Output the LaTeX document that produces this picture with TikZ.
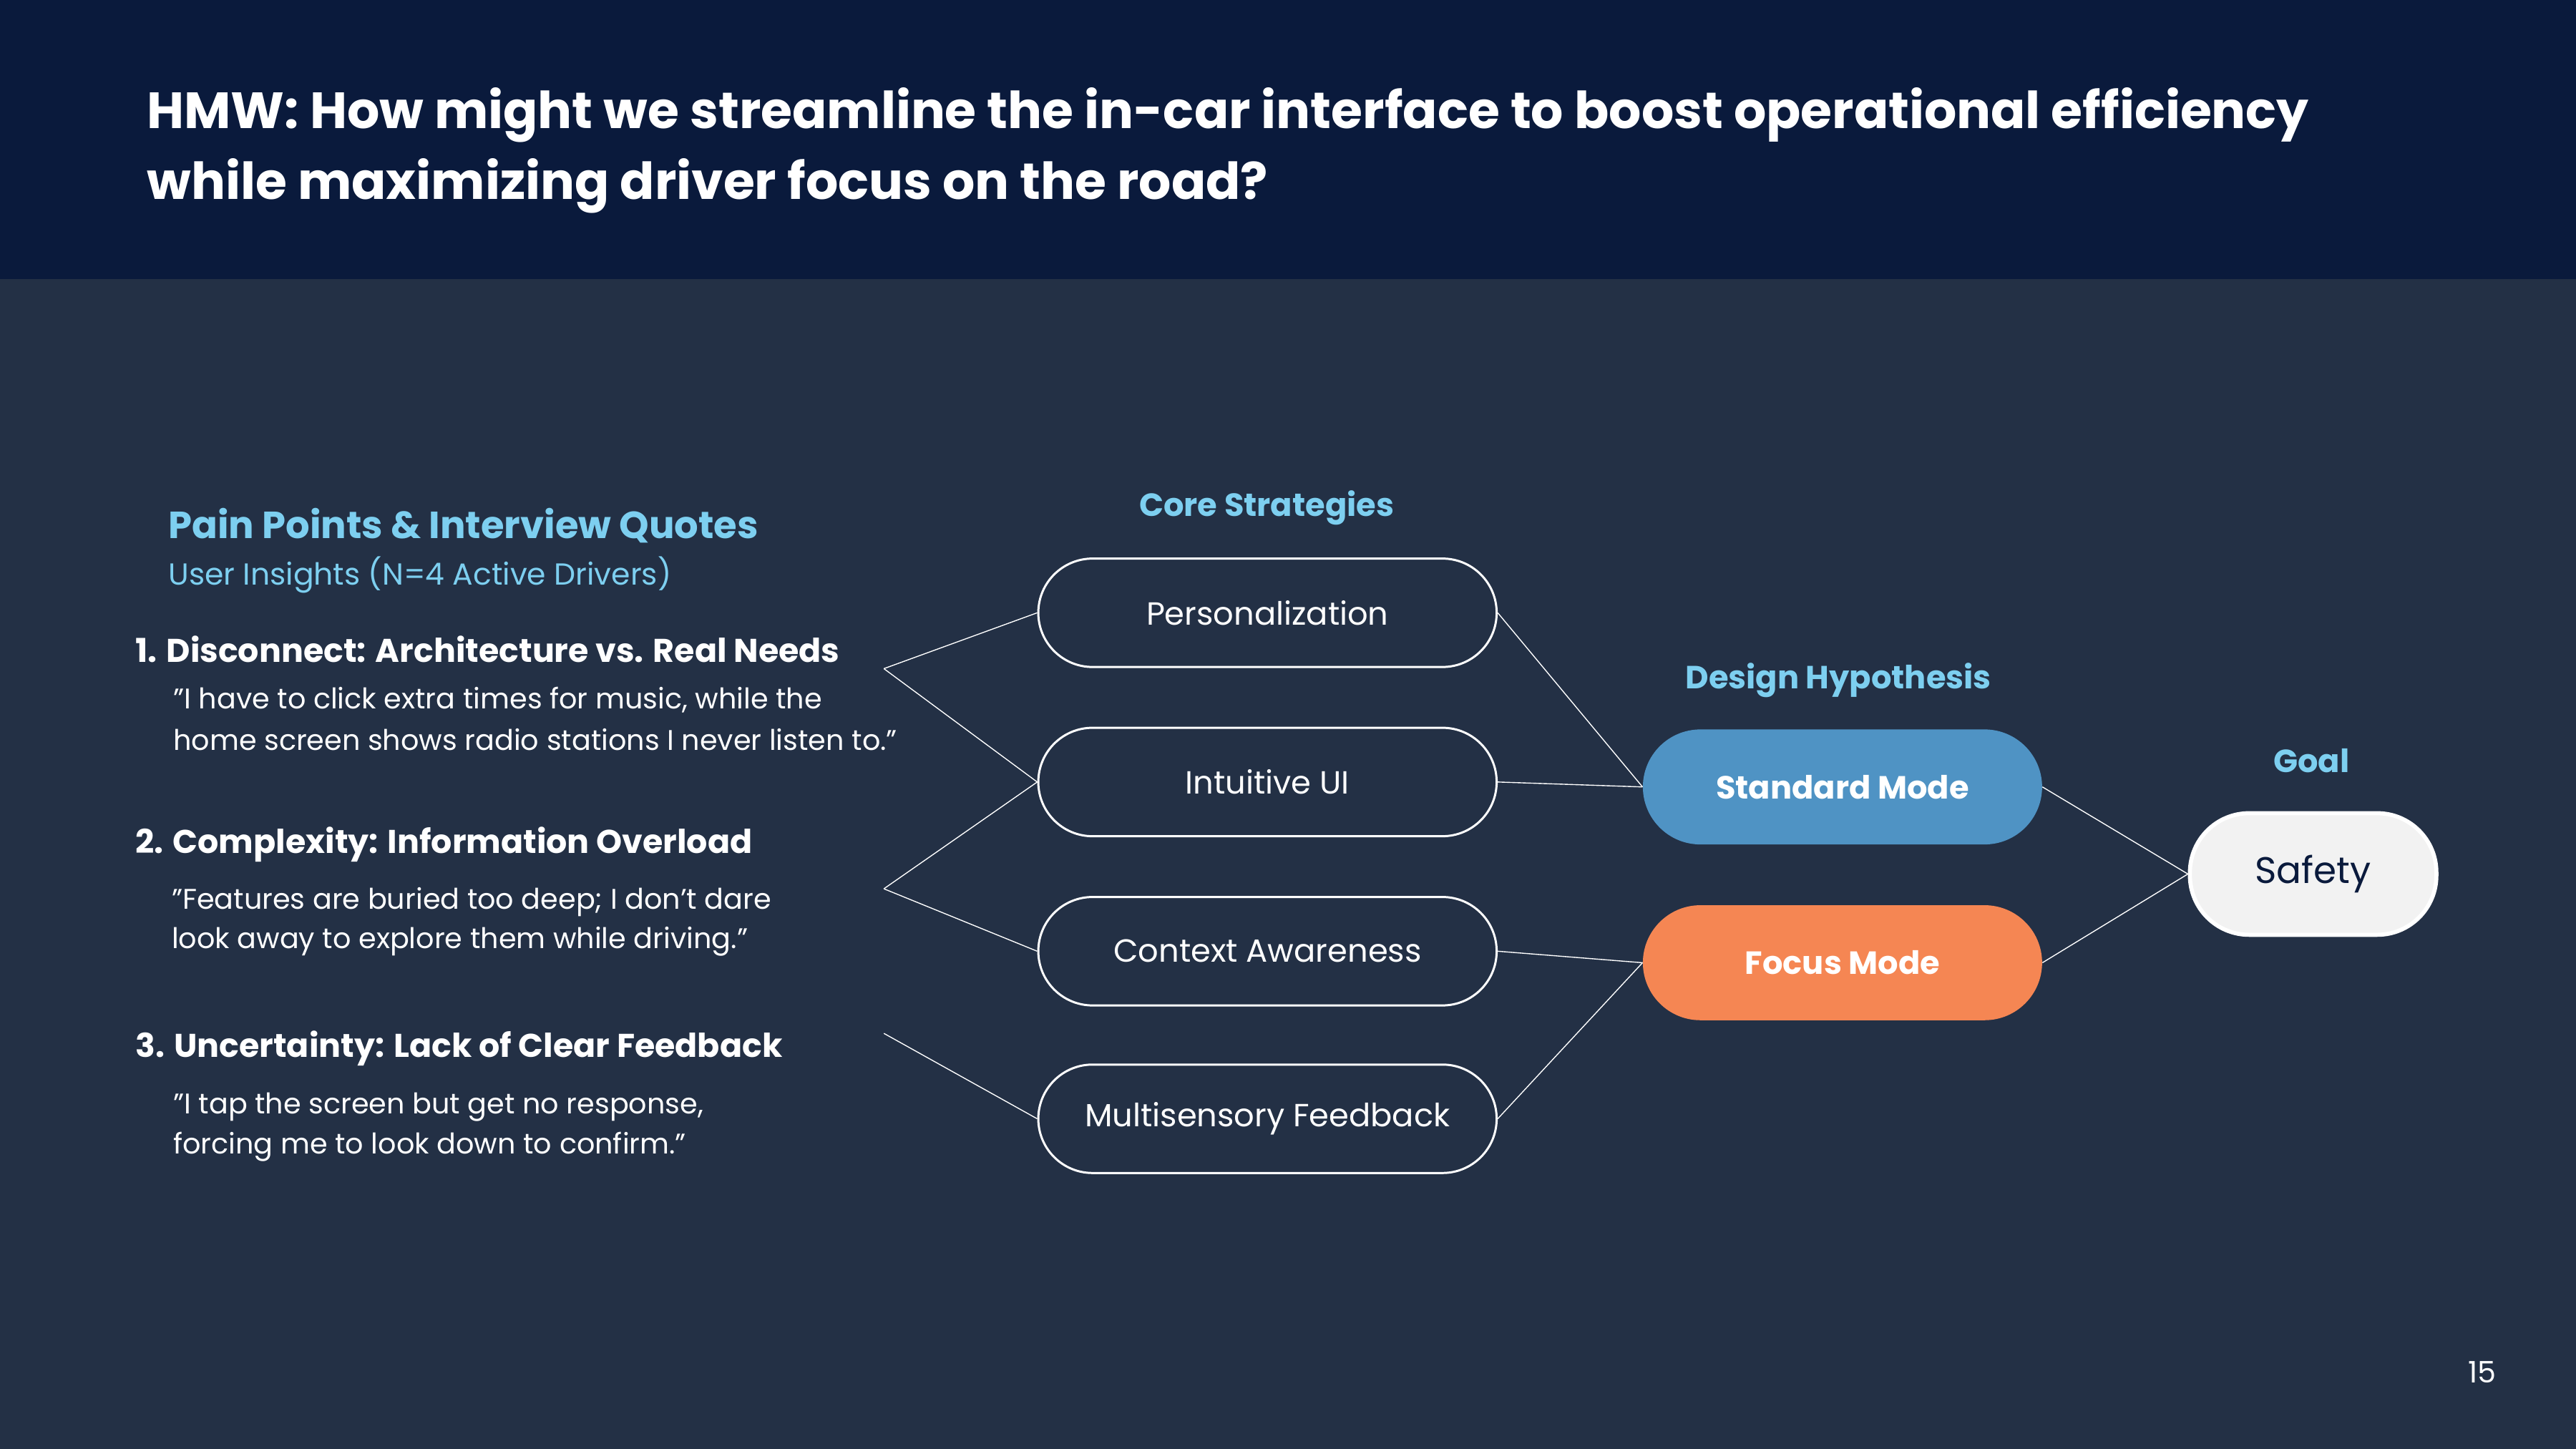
\documentclass[tikz,border=0pt]{standalone}
\usepackage{fontspec}
\setmainfont{Poppins}
\definecolor{hdr}{HTML}{0A1A3C}
\definecolor{bg}{HTML}{233045}
\definecolor{lb}{HTML}{7DCFF0}
\definecolor{stdc}{HTML}{4F93C4}
\definecolor{focc}{HTML}{F58653}
\definecolor{safc}{HTML}{F2F2F2}
\newcommand{\fs}[1]{\fontsize{#1}{#1}\selectfont}
\newcommand{\dq}{\symbol{34}}
\tikzset{
  pill/.style={draw=white,line width=1.3pt,rounded corners=33pt,minimum width=279pt,minimum height=66pt,text=white,font=\fs{19.5}},
  hyp/.style={rounded corners=35pt,minimum width=243pt,minimum height=70pt,text=white,font=\fs{19.5}\bfseries},
  conn/.style={draw=white,line width=0.6pt},
  head/.style={text=lb,font=\fs{19.5}\bfseries},
  pt/.style={anchor=west,text=white,font=\fs{20}\bfseries},
  qt/.style={anchor=west,text=white,font=\fs{17.3},align=left},
}
\begin{document}
\begin{tikzpicture}[x=1pt,y=1pt]
\useasboundingbox (0,0) rectangle (1568,-882);
\fill[bg] (0,0) rectangle (1568,-882);
\fill[hdr] (0,0) rectangle (1568,-170);
\node[anchor=west,text=white,font=\fs{31}\bfseries] (t1) at (86,-70) {HMW: How might we streamline the in-car interface to boost operational efficiency};
\node[anchor=west,text=white,font=\fs{31}\bfseries] (t2) at (86,-113) {while maximizing driver focus on the road?};
\node[anchor=west,text=lb,font=\fs{23}\bfseries] (pp) at (99,-320) {Pain Points \& Interview Quotes};
\node[anchor=west,text=lb,font=\fs{18.5}] (ui) at (99,-350) {User Insights (N=4 Active Drivers)};
\node[pt] (p1) at (79,-395) {1. Disconnect: Architecture vs. Real Needs};
\node[qt] (q1a) at (102,-426) {\dq I have to click extra times for music, while the};
\node[qt] (q1b) at (102,-450) {home screen shows radio stations I never listen to.\dq};
\node[pt] (p2) at (79,-514) {2. Complexity: Information Overload};
\node[qt] (q2a) at (101,-549) {\dq Features are buried too deep; I don't dare};
\node[qt] (q2b) at (101,-573) {look away to explore them while driving.\dq};
\node[pt] (p3) at (79,-638) {3. Uncertainty: Lack of Clear Feedback};
\node[qt] (q3a) at (102,-674) {\dq I tap the screen but get no response,};
\node[qt] (q3b) at (102,-698) {forcing me to look down to confirm.\dq};
\node[head] (cs) at (771,-309) {Core Strategies};
\node[pill] (s1) at (771.5,-373) {Personalization};
\node[pill] (s2) at (771.5,-476) {Intuitive UI};
\node[pill] (s3) at (771.5,-579) {Context Awareness};
\node[pill] (s4) at (771.5,-681) {Multisensory Feedback};
\node[head] (dh) at (1119,-414) {Design Hypothesis};
\node[hyp,fill=stdc] (h1) at (1121.5,-479) {Standard Mode};
\node[hyp,fill=focc] (h2) at (1121.5,-586) {Focus Mode};
\node[head] (gl) at (1407,-463) {Goal};
\node[draw=white,line width=2.5pt,fill=safc,rounded corners=36pt,minimum width=150pt,minimum height=74pt,text=hdr,font=\fs{22.5}] (sf) at (1408,-532) {Safety};
\node[text=white,font=\fs{18}] (pg) at (1511,-835) {15};
\coordinate (a1) at (538,-407);
\coordinate (a2) at (538,-541);
\coordinate (a3) at (538,-629);
\draw[conn] (a1) -- (s1.west); \draw[conn] (a1) -- (s2.west);
\draw[conn] (a2) -- (s2.west); \draw[conn] (a2) -- (s3.west);
\draw[conn] (a3) -- (s4.west);
\draw[conn] (s1.east) -- (h1.west); \draw[conn] (s2.east) -- (h1.west);
\draw[conn] (s3.east) -- (h2.west); \draw[conn] (s4.east) -- (h2.west);
\draw[conn] (h1.east) -- (sf.west); \draw[conn] (h2.east) -- (sf.west);
\end{tikzpicture}
\end{document}
